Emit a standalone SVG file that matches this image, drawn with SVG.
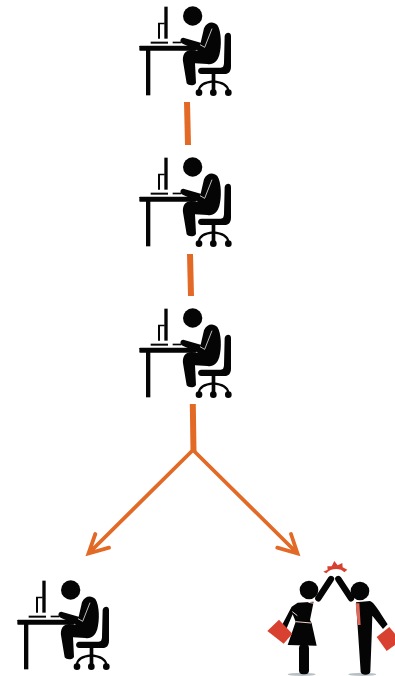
<svg xmlns="http://www.w3.org/2000/svg" width="395" height="676" viewBox="0 0 395 676">
<style>
.c{stroke:#E36A26;fill:none;stroke-linecap:butt}
.h{stroke-linecap:round;stroke-linejoin:miter}
.k{fill:#050505}
.s{stroke:#050505;fill:none;stroke-linecap:round;stroke-linejoin:round}
.r{fill:#D8412F}
</style>
<defs>
<g id="worker" transform="scale(.3333)">
<rect class="k" x="28" y="137" width="170" height="15" rx="2"/>
<rect class="k" x="48" y="150" width="13" height="136"/>
<rect class="k" x="103" y="20" width="10" height="96"/>
<path class="k" d="M84 68h20v5h-14v43h-6z"/>
<rect class="k" x="62" y="125" width="52" height="6"/>
<rect class="k" x="128" y="125" width="26" height="5"/>
<circle class="k" cx="188" cy="48" r="29"/>
<path class="k" d="M222 85C230 65 250 62 262 75 275 95 275 140 268 165 262 185 250 195 232 192L195 190 198 248C195 258 175 258 170 250L160 190C155 165 165 150 185 150L205 152 158 131C148 127 150 113 160 113L212 128Z"/>
<path d="M210 134L224 142 246 86" fill="none" stroke="#e4e4e4" stroke-width="2.500"/>
<path class="k" d="M284 108C287 95 303 95 303 108V200C303 214 296 222 284 222H214C201 222 201 203 214 203H272C280 203 281 198 282 190Z"/>
<rect class="k" x="245" y="220" width="11" height="50"/>
<path class="s" stroke-width="7" d="M207 272C208 252 228 246 250 244 272 246 292 252 295 272"/>
<circle class="k" cx="207" cy="278" r="10"/><circle class="k" cx="250" cy="278" r="10"/><circle class="k" cx="295" cy="278" r="10"/>
</g>
</defs>
<g id="connectors">
<path class="c" stroke-width="6" d="M187 102L188 145"/>
<path class="c" stroke-width="6" d="M190 254L191 296"/>
<path class="c" stroke-width="6" d="M192.800 404L193.500 451"/>
<path class="c h" stroke-width="3.800" d="M193 450L89 553M95.300 534L88.500 553.500 109 547.700"/>
<path class="c h" stroke-width="3.800" d="M193 450L297 553M291 534L297.500 553.500 277.300 547.700"/>
</g>
<g id="worker-1" transform="translate(130 0)"><use href="#worker"/></g>
<g id="worker-2" transform="translate(130 151)"><use href="#worker"/></g>
<g id="worker-3" transform="translate(130 302)"><use href="#worker"/></g>
<g id="worker-4" transform="translate(8 574)"><use href="#worker"/></g>
<g id="high-five" transform="translate(255 555) scale(.3333)">
<ellipse cx="140" cy="358" rx="42" ry="5" fill="#b9c0c4"/>
<ellipse cx="322" cy="358" rx="42" ry="5" fill="#b9c0c4"/>
<path class="r" d="M205 50L218 44 217 34 230 34 238 18 248 31 262 24 263 37 277 44 268 52C258 38 226 38 214 55Z"/>
<circle class="k" cx="162" cy="105" r="28"/>
<circle class="k" cx="315" cy="108" r="28"/>
<path class="s" stroke-width="19" d="M190 130L228 72"/>
<path class="s" stroke-width="19" d="M288 130L250 72"/>
<path class="k" d="M128 143L176 140 165 195 170 205 185 272 98 270 122 200 113 178 95 220 80 212 110 155Z"/>
<path fill="none" stroke="#f2d5cf" stroke-width="3" d="M122 200L168 204M112 170L127 182M160 142L178 145"/>
<rect class="k" x="132" y="268" width="30" height="90" rx="12"/>
<path class="r" d="M37 228L72 194 112 236 86 266Z"/>
<path class="k" d="M303 142L345 138C360 145 370 165 398 208L384 222 352 182 350 245 346 350C345 362 318 362 317 350L310 245Z"/>
<path d="M302 145L313 145 317 210 308 210Z" fill="#E0685A"/>
<path class="r" d="M365 246L403 216 420 236 420 270 395 288Z"/>
</g>
</svg>
